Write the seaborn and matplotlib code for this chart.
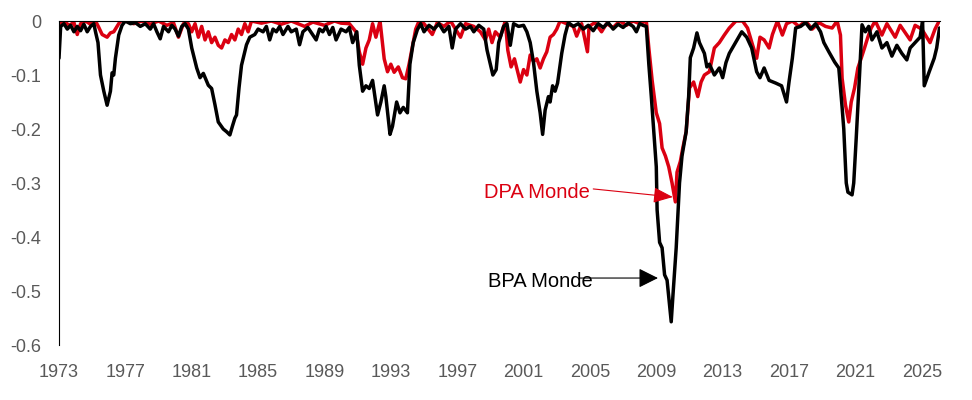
import numpy as np
import pandas as pd
import matplotlib
matplotlib.use("Agg")
import matplotlib.pyplot as plt
import seaborn as sns

# ---- data ----
bpa_years = [
    1973.0, 1973.1, 1973.3, 1973.5, 1973.7, 1973.9, 1974.1, 1974.3, 1974.5, 1974.7,
    1974.9, 1975.1, 1975.2, 1975.35, 1975.5, 1975.7, 1975.9, 1976.1, 1976.2, 1976.3,
    1976.4, 1976.6, 1976.8, 1977.0, 1977.3, 1977.6, 1977.9, 1978.2, 1978.5, 1978.7,
    1978.9, 1979.1, 1979.3, 1979.6, 1979.8, 1980.0, 1980.2, 1980.4, 1980.6, 1980.8,
    1981.0, 1981.3, 1981.5, 1981.7, 1982.0, 1982.2, 1982.4, 1982.6, 1982.9, 1983.1,
    1983.3, 1983.45, 1983.6, 1983.7, 1983.85, 1984.0, 1984.3, 1984.5, 1984.8, 1985.0,
    1985.3, 1985.5, 1985.7, 1985.9, 1986.1, 1986.3, 1986.5, 1986.8, 1987.0, 1987.3,
    1987.5, 1987.7, 1988.0, 1988.5, 1988.7, 1988.9, 1989.1, 1989.3, 1989.5, 1989.7,
    1990.0, 1990.3, 1990.5, 1990.7, 1990.95, 1991.1, 1991.3, 1991.5, 1991.7, 1991.9,
    1992.2, 1992.4, 1992.6, 1992.7, 1992.95, 1993.1, 1993.35, 1993.55, 1993.75, 1994.0,
    1994.15, 1994.35, 1994.6, 1994.8, 1995.0, 1995.3, 1995.6, 1995.9, 1996.2, 1996.5,
    1996.7, 1996.9, 1997.2, 1997.5, 1997.8, 1998.0, 1998.3, 1998.6, 1998.8, 1999.0,
    1999.15, 1999.35, 1999.5, 1999.8, 2000.0, 2000.2, 2000.4, 2000.7, 2001.0, 2001.2,
    2001.4, 2001.6, 2001.8, 2002.0, 2002.15, 2002.3, 2002.5, 2002.6, 2002.75, 2002.9,
    2003.05, 2003.3, 2003.5, 2003.7, 2004.0, 2004.3, 2004.6, 2004.9, 2005.2, 2005.5,
    2005.8, 2006.1, 2006.4, 2006.7, 2007.0, 2007.3, 2007.6, 2007.8, 2008.0, 2008.2,
    2008.4, 2008.55, 2008.7, 2008.85, 2009.0, 2009.05, 2009.2, 2009.35, 2009.5, 2009.65,
    2009.8, 2009.9, 2010.0, 2010.2, 2010.4, 2010.55, 2010.8, 2010.95, 2011.05, 2011.25,
    2011.45, 2011.6, 2011.75, 2011.9, 2012.05, 2012.2, 2012.5, 2012.8, 2013.0, 2013.2,
    2013.4, 2013.7, 2014.15, 2014.45, 2014.75, 2015.05, 2015.25, 2015.5, 2015.8, 2016.2,
    2016.55, 2016.85, 2017.0, 2017.2, 2017.4, 2017.7, 2018.0, 2018.3, 2018.6, 2018.9,
    2019.1, 2019.4, 2019.75, 2020.0, 2020.2, 2020.3, 2020.45, 2020.55, 2020.8, 2020.9,
    2021.05, 2021.25, 2021.4, 2021.6, 2021.8, 2022.0, 2022.3, 2022.6, 2022.9, 2023.2,
    2023.5, 2023.8, 2024.1, 2024.3, 2024.6, 2024.9, 2025.05, 2025.15, 2025.45, 2025.75,
    2025.9, 2026.07,
]
bpa_values = [
    -0.069, -0.010, -0.005, -0.015, -0.008, -0.020, -0.010, -0.018, -0.006, -0.020,
    -0.010, -0.005, -0.020, -0.040, -0.100, -0.130, -0.156, -0.130, -0.096, -0.100,
    -0.069, -0.026, -0.008, -0.000, -0.005, -0.003, -0.010, -0.005, -0.015, -0.005,
    -0.020, -0.033, -0.010, -0.020, -0.008, -0.015, -0.028, -0.010, -0.005, -0.015,
    -0.050, -0.087, -0.105, -0.097, -0.119, -0.125, -0.155, -0.187, -0.200, -0.205,
    -0.211, -0.195, -0.180, -0.174, -0.124, -0.082, -0.044, -0.030, -0.025, -0.015,
    -0.020, -0.010, -0.035, -0.015, -0.020, -0.010, -0.025, -0.010, -0.020, -0.015,
    -0.044, -0.020, -0.012, -0.035, -0.015, -0.020, -0.010, -0.025, -0.012, -0.035,
    -0.015, -0.020, -0.012, -0.040, -0.020, -0.082, -0.130, -0.120, -0.125, -0.110,
    -0.174, -0.150, -0.120, -0.140, -0.210, -0.195, -0.150, -0.170, -0.160, -0.170,
    -0.080, -0.040, -0.016, -0.005, -0.020, -0.008, -0.015, -0.005, -0.020, -0.010,
    -0.050, -0.015, -0.005, -0.015, -0.010, -0.020, -0.008, -0.015, -0.054, -0.080,
    -0.100, -0.090, -0.040, -0.010, -0.005, -0.045, -0.005, -0.010, -0.008, -0.020,
    -0.040, -0.077, -0.130, -0.170, -0.210, -0.165, -0.140, -0.150, -0.120, -0.130,
    -0.115, -0.060, -0.026, -0.003, -0.010, -0.005, -0.015, -0.008, -0.018, -0.005,
    -0.012, -0.003, -0.015, -0.006, -0.012, -0.004, -0.010, -0.020, -0.005, -0.008,
    -0.010, -0.080, -0.140, -0.205, -0.270, -0.350, -0.410, -0.420, -0.470, -0.480,
    -0.525, -0.557, -0.510, -0.420, -0.300, -0.250, -0.205, -0.140, -0.068, -0.050,
    -0.022, -0.040, -0.050, -0.060, -0.085, -0.080, -0.100, -0.087, -0.105, -0.077,
    -0.060, -0.044, -0.020, -0.030, -0.050, -0.094, -0.105, -0.087, -0.110, -0.115,
    -0.120, -0.150, -0.113, -0.069, -0.013, -0.010, -0.003, -0.015, -0.005, -0.020,
    -0.040, -0.057, -0.076, -0.087, -0.160, -0.200, -0.300, -0.317, -0.322, -0.300,
    -0.217, -0.100, -0.007, -0.020, -0.010, -0.035, -0.020, -0.050, -0.040, -0.065,
    -0.045, -0.060, -0.072, -0.050, -0.040, -0.030, -0.000, -0.120, -0.094, -0.069,
    -0.050, -0.013,
]

dpa_years = [
    1973.0, 1973.3, 1973.6, 1973.9, 1974.1, 1974.3, 1974.6, 1974.9, 1975.2, 1975.4,
    1975.6, 1975.9, 1976.1, 1976.3, 1976.5, 1976.7, 1977.0, 1977.5, 1978.0, 1978.5,
    1979.0, 1979.5, 1979.9, 1980.2, 1980.5, 1980.8, 1981.0, 1981.2, 1981.4, 1981.6,
    1981.8, 1982.0, 1982.2, 1982.4, 1982.6, 1982.8, 1983.0, 1983.2, 1983.4, 1983.6,
    1983.8, 1984.0, 1984.2, 1984.4, 1984.6, 1985.2, 1985.8, 1986.4, 1987.0, 1987.8,
    1988.3, 1989.0, 1989.6, 1990.0, 1990.5, 1990.9, 1991.1, 1991.3, 1991.5, 1991.7,
    1991.9, 1992.1, 1992.35, 1992.6, 1992.8, 1993.0, 1993.2, 1993.45, 1993.7, 1993.9,
    1994.1, 1994.3, 1994.5, 1994.7, 1995.0, 1995.5, 1995.8, 1996.2, 1996.6, 1997.2,
    1997.5, 1998.0, 1998.4, 1998.7, 1998.9, 1999.1, 1999.3, 1999.6, 1999.9, 2000.05,
    2000.25, 2000.45, 2000.8, 2001.0, 2001.2, 2001.4, 2001.6, 2001.8, 2002.0, 2002.2,
    2002.4, 2002.6, 2002.8, 2003.0, 2003.2, 2003.6, 2004.0, 2004.2, 2004.5, 2004.85,
    2004.95, 2005.3, 2005.7, 2006.0, 2006.4, 2006.8, 2007.2, 2007.6, 2008.0, 2008.4,
    2008.55, 2008.75, 2009.0, 2009.2, 2009.35, 2009.55, 2009.75, 2009.95, 2010.15, 2010.25,
    2010.45, 2010.6, 2010.8, 2011.0, 2011.25, 2011.5, 2011.7, 2011.9, 2012.2, 2012.5,
    2012.8, 2013.1, 2013.4, 2013.8, 2014.2, 2014.5, 2014.8, 2015.05, 2015.25, 2015.5,
    2015.8, 2016.0, 2016.3, 2016.6, 2016.85, 2017.2, 2017.6, 2018.0, 2018.4, 2018.8,
    2019.2, 2019.6, 2019.9, 2020.1, 2020.2, 2020.4, 2020.6, 2020.75, 2020.95, 2021.15,
    2021.35, 2021.55, 2021.75, 2021.95, 2022.2, 2022.6, 2022.9, 2023.4, 2023.7, 2024.3,
    2024.6, 2025.0, 2025.5, 2025.8, 2026.05,
]
dpa_values = [
    -0.005, -0.000, -0.008, -0.003, -0.025, -0.005, -0.000, -0.006, -0.000, -0.012,
    -0.025, -0.030, -0.022, -0.020, -0.010, -0.000, -0.000, -0.005, -0.000, -0.006,
    -0.000, -0.008, -0.003, -0.030, -0.005, -0.005, -0.020, -0.005, -0.030, -0.010,
    -0.035, -0.020, -0.040, -0.030, -0.045, -0.050, -0.035, -0.040, -0.025, -0.035,
    -0.015, -0.025, -0.005, -0.020, -0.000, -0.004, -0.000, -0.006, -0.000, -0.010,
    -0.002, -0.008, -0.000, -0.004, -0.005, -0.020, -0.057, -0.080, -0.050, -0.035,
    -0.005, -0.030, -0.000, -0.070, -0.094, -0.080, -0.095, -0.085, -0.105, -0.107,
    -0.080, -0.047, -0.015, -0.000, -0.005, -0.025, -0.003, -0.010, -0.000, -0.030,
    -0.005, -0.010, -0.020, -0.035, -0.015, -0.040, -0.020, -0.030, -0.000, -0.054,
    -0.085, -0.070, -0.113, -0.090, -0.100, -0.063, -0.075, -0.070, -0.087, -0.070,
    -0.057, -0.030, -0.025, -0.015, -0.000, -0.005, -0.010, -0.028, -0.005, -0.057,
    -0.010, -0.003, -0.020, -0.005, -0.012, -0.000, -0.008, -0.000, -0.005, -0.000,
    -0.050, -0.110, -0.170, -0.190, -0.235, -0.250, -0.270, -0.300, -0.335, -0.280,
    -0.260, -0.235, -0.205, -0.124, -0.113, -0.140, -0.113, -0.100, -0.094, -0.050,
    -0.040, -0.026, -0.013, -0.000, -0.000, -0.013, -0.044, -0.069, -0.030, -0.035,
    -0.050, -0.025, -0.000, -0.026, -0.005, -0.000, -0.010, -0.000, -0.015, -0.003,
    -0.010, -0.013, -0.000, -0.026, -0.106, -0.155, -0.187, -0.150, -0.124, -0.087,
    -0.069, -0.050, -0.030, -0.013, -0.000, -0.026, -0.005, -0.030, -0.008, -0.035,
    -0.008, -0.015, -0.040, -0.015, -0.000,
]

year_ticks = [1973, 1977, 1981, 1985, 1989, 1993, 1997, 2001, 2005, 2009, 2013, 2017, 2021, 2025]
value_ticks = [0, -0.1, -0.2, -0.3, -0.4, -0.5, -0.6]
value_labels = ["0", "-0.1", "-0.2", "-0.3", "-0.4", "-0.5", "-0.6"]

RED = "#DB0011"
GREY = "#595959"

sns.set_theme(style="white")
plt.rcParams["font.family"] = ["Liberation Sans", "DejaVu Sans"]

bpa = pd.DataFrame({"year": bpa_years, "value": bpa_values})
dpa = pd.DataFrame({"year": dpa_years, "value": dpa_values})

fig = plt.figure(figsize=(9.72, 4.0), dpi=100)
ax = fig.add_axes([59 / 972, 1 - 345 / 400, (940 - 59) / 972, (345 - 21) / 400])

sns.lineplot(data=dpa, x="year", y="value", ax=ax, color=RED, lw=2.5,
             estimator=None, sort=False)
sns.lineplot(data=bpa, x="year", y="value", ax=ax, color="black", lw=2.5,
             estimator=None, sort=False)

ax.set_xlim(1973, 2026.1)
ax.set_ylim(-0.6, 0)
ax.set_xticks(year_ticks)
ax.set_xticklabels([str(y) for y in year_ticks])
ax.set_yticks(value_ticks)
ax.set_yticklabels(value_labels)
ax.set_xlabel("")
ax.set_ylabel("")
ax.tick_params(axis="both", length=0, labelsize=13, labelcolor=GREY)
ax.tick_params(axis="y", pad=13)
ax.tick_params(axis="x", pad=14)

for side in ["right", "bottom"]:
    ax.spines[side].set_visible(False)
ax.spines["left"].set_color("black")
ax.spines["left"].set_linewidth(0.8)
ax.spines["top"].set_color("black")
ax.spines["top"].set_linewidth(0.8)

# annotations
ax.text(2001.8, -0.318, "DPA Monde", color=RED, fontsize=14.5, ha="center", va="center")
ax.annotate("", xy=(2010.0, -0.326), xytext=(2005.2, -0.311),
            arrowprops=dict(arrowstyle="-|>,head_length=0.8,head_width=0.32",
                            color=RED, lw=0.8, mutation_scale=15,
                            shrinkA=0, shrinkB=0))
ax.text(2002.0, -0.483, "BPA Monde", color="black", fontsize=14.5, ha="center", va="center")
ax.annotate("", xy=(2009.1, -0.476), xytext=(2004.4, -0.476),
            arrowprops=dict(arrowstyle="-|>,head_length=0.8,head_width=0.4",
                            color="black", lw=0.8, mutation_scale=15,
                            shrinkA=0, shrinkB=0))

fig.savefig("out.png", dpi=100)
